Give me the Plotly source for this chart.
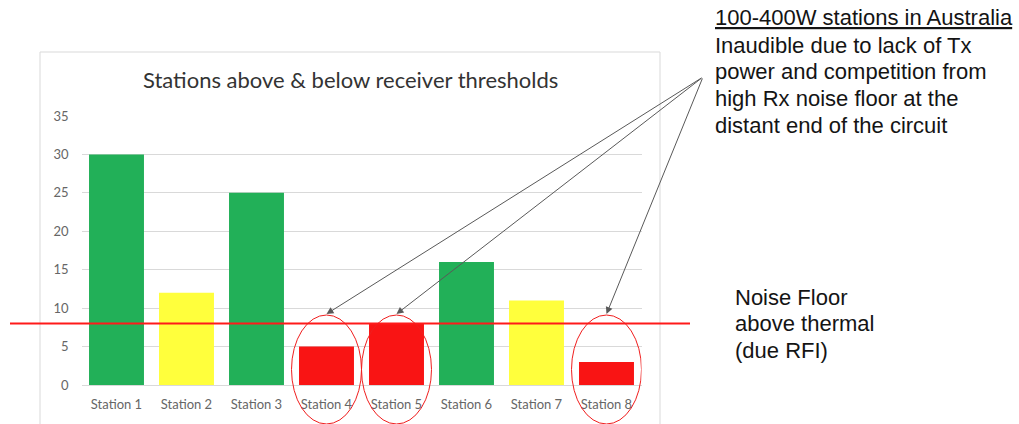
import plotly.graph_objects as go

# ---- data ---------------------------------------------------------------
stations = ["Station 1", "Station 2", "Station 3", "Station 4",
            "Station 5", "Station 6", "Station 7", "Station 8"]
signal_levels = [30, 12, 25, 5, 8, 16, 11, 3]
bar_colors = ["#22B058", "#FFFF3C", "#22B058", "#F91414",
              "#F91414", "#22B058", "#FFFF3C", "#F91414"]
noise_floor = 8
y_ticks = [0, 5, 10, 15, 20, 25, 30, 35]

callout_title = "<u>100-400W stations in Australia</u>"
callout_lines = [
    "Inaudible due to lack of Tx",
    "power and competition from",
    "high Rx noise floor at the",
    "distant end of the circuit",
]
noise_lines = ["Noise Floor", "above thermal", "(due RFI)"]

# ---- page geometry (pixels) ---------------------------------------------
W, H = 1019, 424
PLOT_L, PLOT_R = 81.5, 641.5      # plot area left/right
PLOT_B, PLOT_T = 385, 116         # plot area bottom/top
Y_MAX = 35
LINE_STEP = 26.7                  # line pitch of the side notes


def px_x(v):
    return v / W


def px_y(v):
    return 1 - v / H


def cat_px(i):
    slot = (PLOT_R - PLOT_L) / len(stations)
    return PLOT_L + (i + 0.5) * slot


fig = go.Figure(
    go.Bar(
        x=list(range(len(stations))),
        y=signal_levels,
        marker=dict(color=bar_colors, line=dict(width=0)),
        hoverinfo="skip",
    )
)

axis_font = dict(family="Lato, Carlito, sans-serif", size=13, color="#666666")

fig.update_layout(
    width=W,
    height=H,
    margin=dict(l=0, r=0, t=0, b=0, pad=0),
    paper_bgcolor="white",
    plot_bgcolor="white",
    showlegend=False,
    bargap=0.215,
    xaxis=dict(
        domain=[px_x(PLOT_L), px_x(PLOT_R)],
        range=[-0.5, len(stations) - 0.5],
        tickmode="array",
        tickvals=list(range(len(stations))),
        ticktext=stations,
        showgrid=False,
        zeroline=False,
        showline=False,
        ticks="",
        tickfont=axis_font,
        ticklabelstandoff=10,
        automargin=False,
        fixedrange=True,
    ),
    yaxis=dict(
        domain=[px_y(PLOT_B), px_y(PLOT_T)],
        range=[0, Y_MAX],
        tickmode="array",
        tickvals=y_ticks,
        showgrid=True,
        gridcolor="#D9D9D9",
        gridwidth=1,
        zeroline=True,
        zerolinecolor="#D9D9D9",
        zerolinewidth=1,
        showline=False,
        ticks="",
        tickfont=axis_font,
        ticklabelstandoff=12,
        automargin=False,
        fixedrange=True,
    ),
)

shapes = []
# chart frame
shapes.append(dict(
    type="rect", xref="paper", yref="paper",
    x0=px_x(40), x1=px_x(660), y0=-0.05, y1=px_y(52),
    line=dict(color="#D9D9D9", width=1), fillcolor="rgba(0,0,0,0)",
    layer="below",
))
# noise floor line
shapes.append(dict(
    type="line", xref="paper", yref="y",
    x0=px_x(10), x1=px_x(690), y0=noise_floor, y1=noise_floor,
    line=dict(color="#FF1A1A", width=2),
    layer="above",
))

annotations = []
ELLIPSE_TOP_PX = 315
ELLIPSE_BOTTOM_PX = 424
ARROW_TAIL = (703, 77)

# circle the stations that sit at or below the noise floor and point at them
for i, v in enumerate(signal_levels):
    if v <= noise_floor:
        shapes.append(dict(
            type="circle", xref="x", yref="paper",
            x0=i - 0.5, x1=i + 0.5,
            y0=px_y(ELLIPSE_BOTTOM_PX), y1=px_y(ELLIPSE_TOP_PX),
            line=dict(color="#F01E1E", width=1),
            fillcolor="rgba(0,0,0,0)",
            layer="above",
        ))
        tip_x = cat_px(i)
        tip_y = ELLIPSE_TOP_PX - 1
        annotations.append(dict(
            x=px_x(tip_x), y=px_y(tip_y),
            xref="paper", yref="paper",
            text="", showarrow=True,
            ax=ARROW_TAIL[0] - tip_x, ay=ARROW_TAIL[1] - tip_y,
            axref="pixel", ayref="pixel",
            arrowhead=2, arrowsize=1.4, arrowwidth=1,
            arrowcolor="#595959", standoff=0,
        ))

# chart title
annotations.append(dict(
    x=px_x(350), y=px_y(80), xref="paper", yref="paper",
    text="Stations above & below receiver thresholds",
    showarrow=False, xanchor="center", yanchor="middle",
    font=dict(family="Lato, Carlito, sans-serif", size=22, color="#333333"),
))

side_font = dict(family="Liberation Sans, Arial, sans-serif", size=22, color="#141414")


def add_lines(lines, left_px, first_mid_px):
    for k, line in enumerate(lines):
        annotations.append(dict(
            x=px_x(left_px), y=px_y(first_mid_px + k * LINE_STEP),
            xref="paper", yref="paper",
            text=line, showarrow=False,
            xanchor="left", yanchor="middle", align="left",
            font=side_font, borderpad=0,
        ))


add_lines([callout_title], 714, 17)
add_lines(callout_lines, 714, 45)
add_lines(noise_lines, 734, 297)

fig.update_layout(shapes=shapes, annotations=annotations)

fig.write_html("out.html", config={"displayModeBar": False})
